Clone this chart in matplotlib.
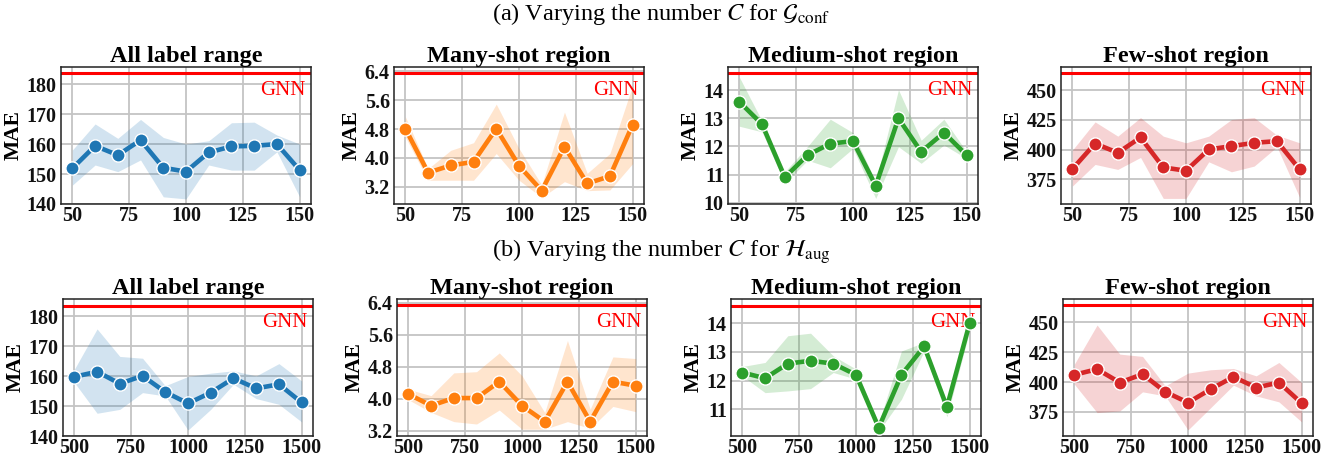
import matplotlib
matplotlib.use("Agg")
import matplotlib.pyplot as plt
import numpy as np

plt.rcParams['font.family'] = ['Liberation Serif', 'DejaVu Serif']
plt.rcParams['mathtext.fontset'] = 'stix'

# ---------------- data ----------------
x_a = [50, 60, 70, 80, 90, 100, 110, 120, 130, 140, 150]
x_b = [500, 600, 700, 800, 900, 1000, 1100, 1200, 1300, 1400, 1500]

titles = ["All label range", "Many-shot region", "Medium-shot region", "Few-shot region"]
colors = ["#1f77b4", "#ff7f0e", "#2ca02c", "#d62728"]
gnn = [183.6, 6.34, 14.6, 464.3]

# (a) G_conf
a_all_mean = [151.9, 159.4, 156.3, 161.3, 152.1, 150.8, 157.2, 159.2, 159.4, 160.0, 151.3]
a_all_hi = [158.0, 166.7, 161.9, 168.2, 162.2, 160.0, 161.1, 167.1, 167.3, 163.0, 160.0]
a_all_lo = [146.3, 153.0, 150.8, 154.7, 142.4, 141.7, 153.0, 151.3, 151.3, 157.4, 142.4]

a_many_mean = [4.81, 3.59, 3.79, 3.89, 4.81, 3.78, 3.09, 4.31, 3.29, 3.49, 4.92]
a_many_hi = [5.14, 3.70, 4.21, 4.42, 5.49, 4.26, 3.25, 5.27, 3.57, 4.12, 6.01]
a_many_lo = [4.58, 3.38, 3.38, 3.38, 4.12, 3.38, 2.90, 3.34, 3.09, 3.11, 3.84]

a_med_mean = [13.59, 12.79, 10.90, 11.69, 12.10, 12.19, 10.60, 13.00, 11.81, 12.49, 11.69]
a_med_hi = [14.47, 12.90, 11.10, 12.00, 12.97, 12.49, 10.75, 14.02, 12.22, 12.97, 11.81]
a_med_lo = [12.72, 12.52, 10.69, 11.51, 11.24, 11.93, 10.15, 11.99, 11.40, 12.05, 11.57]

a_few_mean = [383.7, 405.2, 397.4, 410.3, 385.1, 382.3, 400.2, 403.0, 405.8, 407.2, 383.4]
a_few_hi = [399.6, 423.4, 411.4, 427.0, 411.4, 405.8, 411.4, 425.4, 427.0, 412.2, 405.8]
a_few_lo = [369.4, 387.6, 383.4, 393.5, 359.0, 359.0, 389.8, 381.4, 386.2, 402.4, 359.9]

# (b) H_aug
b_all_mean = [159.8, 161.5, 157.5, 160.1, 154.7, 150.9, 154.5, 159.3, 155.9, 157.3, 151.2]
b_all_hi = [162.3, 175.8, 166.6, 166.0, 156.8, 159.9, 161.0, 161.8, 160.1, 164.2, 158.4]
b_all_lo = [157.9, 147.6, 148.9, 154.5, 153.4, 142.0, 148.9, 157.3, 152.5, 150.6, 144.7]

b_many_mean = [4.12, 3.83, 4.02, 4.02, 4.43, 3.83, 3.43, 4.43, 3.43, 4.43, 4.33]
b_many_hi = [4.24, 4.08, 4.65, 4.68, 5.15, 4.58, 3.66, 5.46, 3.74, 5.05, 5.01]
b_many_lo = [3.98, 3.66, 3.43, 3.37, 3.72, 3.24, 3.24, 3.43, 3.26, 3.81, 3.68]

b_med_mean = [12.28, 12.08, 12.59, 12.69, 12.59, 12.20, 10.36, 12.20, 13.19, 11.08, 14.00]
b_med_hi = [12.49, 12.63, 13.56, 13.65, 12.86, 12.40, 10.51, 13.03, 13.33, 11.26, 14.31]
b_med_lo = [12.16, 11.58, 11.64, 11.72, 12.28, 12.05, 10.24, 11.35, 13.03, 10.74, 13.73]

b_few_mean = [406.1, 410.8, 399.6, 406.6, 391.8, 382.8, 394.0, 404.4, 395.4, 399.6, 382.3]
b_few_hi = [415.0, 447.8, 423.4, 421.5, 396.8, 407.5, 410.3, 411.4, 405.2, 416.4, 399.6]
b_few_lo = [398.2, 374.4, 375.8, 391.8, 388.4, 359.9, 378.6, 397.4, 388.4, 383.4, 366.6]

yticks = [[140, 150, 160, 170, 180], [3.2, 4.0, 4.8, 5.6, 6.4],
          [10, 11, 12, 13, 14], [375, 400, 425, 450]]
ylims_a = [(140, 185.7), (2.72, 6.52), (9.95, 14.83), (354.3, 469.6)]
ylims_b = [(140, 185.8), (3.07, 6.50), (10.07, 14.84), (354.8, 469.6)]
xticks_a = [50, 75, 100, 125, 150]
xticks_b = [500, 750, 1000, 1250, 1500]

rows = [
    (x_a, [(a_all_mean, a_all_lo, a_all_hi), (a_many_mean, a_many_lo, a_many_hi),
           (a_med_mean, a_med_lo, a_med_hi), (a_few_mean, a_few_lo, a_few_hi)],
     ylims_a, xticks_a, (45, 155)),
    (x_b, [(b_all_mean, b_all_lo, b_all_hi), (b_many_mean, b_many_lo, b_many_hi),
           (b_med_mean, b_med_lo, b_med_hi), (b_few_mean, b_few_lo, b_few_hi)],
     ylims_b, xticks_b, (450, 1550)),
]

W, H = 1322, 458
fig = plt.figure(figsize=(W / 100, H / 100), dpi=100)

lefts = [[61, 394, 728, 1061], [63, 397, 731, 1063]]
tops = [67, 299]
aw, ah = 250, 137

suptexts = [r"(a) Varying the number $C$ for $\mathcal{G}_{\mathrm{conf}}$",
            r"(b) Varying the number $C$ for $\mathcal{H}_{\mathrm{aug}}$"]
sup_y = [14, 252]

for r, (xs, series, ylims, xt, xl) in enumerate(rows):
    fig.text(0.5, 1 - sup_y[r] / H, suptexts[r], ha='center', va='center', fontsize=17.5)
    for c in range(4):
        L = lefts[r][c]
        ax = fig.add_axes([L / W, 1 - (tops[r] + ah) / H, aw / W, ah / H])
        mean, lo, hi = series[c]
        col = colors[c]
        ax.grid(True, color='#c4c4c4', linewidth=1.3, zorder=0)
        ax.set_axisbelow(True)
        ax.fill_between(xs, lo, hi, color=col, alpha=0.2, linewidth=0, zorder=1)
        ax.plot(xs, mean, color=col, linewidth=3.3, marker='o', markersize=9.5,
                markeredgecolor='white', markeredgewidth=1.0, zorder=3)
        ax.axhline(gnn[c], color='red', linewidth=2.2, zorder=2)
        ax.text(0.978, 0.83, "GNN", color='red', fontsize=15, ha='right', va='center',
                transform=ax.transAxes, zorder=2.5)
        ax.set_xticks(xt)
        ax.set_yticks(yticks[c])
        ax.set_xlim(*xl)
        ax.set_ylim(*ylims[c])
        if c == 1:
            ax.set_yticklabels([f"{v:.1f}" for v in yticks[c]])
        ax.tick_params(axis='y', length=0, pad=3, labelsize=14.5, colors='#111111')
        ax.tick_params(axis='x', length=0, pad=1.5, labelsize=14.5, colors='#111111')
        for lab in ax.get_xticklabels() + ax.get_yticklabels():
            lab.set_fontweight('bold')
        ax.set_ylabel("MAE", fontsize=15.5, fontweight='bold', labelpad=2)
        ax.set_title(titles[c], fontsize=17.5, fontweight='bold', pad=2)
        for s in ax.spines.values():
            s.set_color('#222222')
            s.set_linewidth(1.1)

fig.savefig("out.png", dpi=100)
